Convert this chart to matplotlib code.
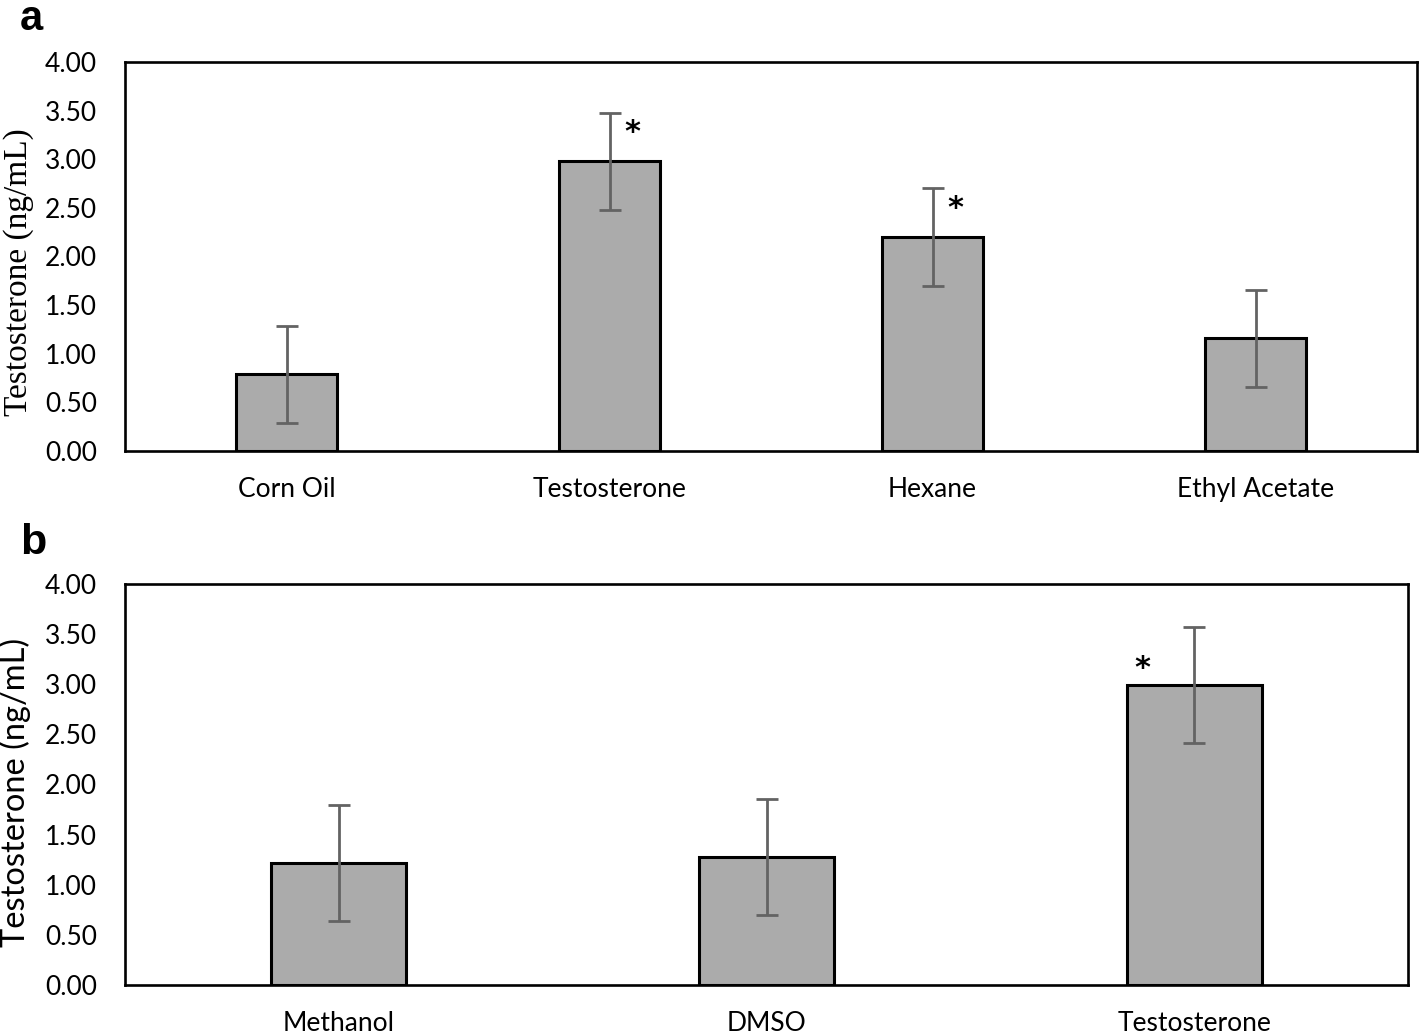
import matplotlib
matplotlib.use("Agg")
import matplotlib.pyplot as plt
import numpy as np

# Panel a data
cats_a = ["Corn Oil", "Testosterone", "Hexane", "Ethyl Acetate"]
vals_a = [0.79, 2.98, 2.20, 1.16]
errs_a = [0.50, 0.50, 0.50, 0.50]
sig_a = [False, True, True, False]

# Panel b data
cats_b = ["Methanol", "DMSO", "Testosterone"]
vals_b = [1.22, 1.28, 2.99]
errs_b = [0.58, 0.58, 0.58]
sig_b = [False, False, True]

yticks = [0.0, 0.5, 1.0, 1.5, 2.0, 2.5, 3.0, 3.5, 4.0]
ylabel = "Testosterone (ng/mL)"

W, H = 1419, 1034
fig = plt.figure(figsize=(W / 100, H / 100), dpi=100)

def px_axes(x0, y0, x1, y1):
    return fig.add_axes([x0 / W, 1 - y1 / H, (x1 - x0) / W, (y1 - y0) / H])

ax_a = px_axes(125, 62, 1417, 451)
ax_b = px_axes(125, 584, 1408, 985)

TICKFONT = "Lato"

def draw(ax, cats, vals, errs, sig, star_dx, star_dy, label_font, label_size,
         label_x, label_y):
    x = np.arange(len(cats))
    ax.bar(x, vals, width=0.315, color="#ababab", edgecolor="black",
           linewidth=2.2, zorder=2)
    ax.errorbar(x, vals, yerr=errs, fmt="none", ecolor="#636363",
                elinewidth=2.0, capsize=8, capthick=2.0, zorder=3)
    for xi, v, s in zip(x, vals, sig):
        if s:
            ax.text(xi + star_dx, v + star_dy, "*", ha="center", va="center",
                    fontsize=22, fontweight="bold", fontfamily="DejaVu Sans",
                    zorder=4)
    ax.set_xlim(-0.5, len(cats) - 0.5)
    ax.set_ylim(0, 4.0)
    ax.set_yticks(yticks)
    ax.set_yticklabels([f"{t:.2f}" for t in yticks], fontsize=19,
                       fontfamily=TICKFONT)
    ax.set_xticks(x)
    ax.set_xticklabels(cats, fontsize=19, fontfamily=TICKFONT)
    ax.tick_params(axis="both", length=0)
    ax.tick_params(axis="y", pad=20)
    ax.tick_params(axis="x", pad=19)
    for sp in ax.spines.values():
        sp.set_linewidth(1.9)
        sp.set_color("black")
    ax.set_ylabel(ylabel, fontsize=label_size, fontfamily=label_font)
    ax.yaxis.set_label_coords(label_x, label_y)

draw(ax_a, cats_a, vals_a, errs_a, sig_a, 0.07, 0.29,
     "Liberation Serif", 24, -0.0705, 0.46)
draw(ax_b, cats_b, vals_b, errs_b, sig_b, -0.12, 0.17,
     TICKFONT, 23.5, -0.0735, 0.48)

fig.text(20 / W, 1 - 19 / H, "a", fontsize=30, fontweight="bold",
         fontfamily="Liberation Sans", ha="left", va="center")
fig.text(20 / W, 1 - 543 / H, "b", fontsize=31, fontweight="bold",
         fontfamily="Liberation Sans", ha="left", va="center")

fig.savefig("out.png", dpi=100)
